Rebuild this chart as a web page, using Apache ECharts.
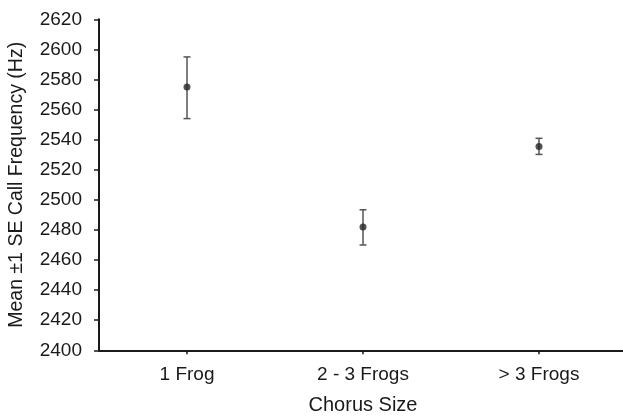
<!DOCTYPE html>
<html>
<head>
<meta charset="utf-8">
<script src="https://cdn.jsdelivr.net/npm/echarts@6/dist/echarts.min.js"></script>
<style>
html,body{margin:0;padding:0;background:#fff;}
#chart{width:623px;height:417px;}
</style>
</head>
<body>
<div id="chart"></div>
<script>
var categories = ['1 Frog', '2 - 3 Frogs', '> 3 Frogs'];
var means = [2575, 2482, 2535.5];
var lowers = [2554, 2470, 2530.2];
var uppers = [2595, 2493.4, 2540.9];

var chart = echarts.init(document.getElementById('chart'));
var font = 'Liberation Sans, Arial, sans-serif';
var errData = categories.map(function (c, i) { return [i, lowers[i], uppers[i]]; });

chart.setOption({
  animation: false,
  backgroundColor: '#fff',
  grid: { left: 99, right: -4, top: 19.3, bottom: 66.7, containLabel: false, outerBoundsMode: 'none' },
  xAxis: {
    type: 'category',
    data: categories,
    name: 'Chorus Size',
    nameLocation: 'middle',
    nameGap: 45,
    nameTextStyle: { fontFamily: font, fontSize: 20, color: '#1a1a1a' },
    axisLine: { lineStyle: { color: '#1a1a1a', width: 2 } },
    axisTick: { show: true, alignWithLabel: true, length: 4, lineStyle: { color: '#1a1a1a', width: 1.5 } },
    axisLabel: { fontFamily: font, fontSize: 19, color: '#1a1a1a', margin: 15 },
    splitLine: { show: false }
  },
  yAxis: {
    type: 'value',
    min: 2400, max: 2620, interval: 20,
    name: 'Mean \u00b11 SE Call Frequency (Hz)',
    nameLocation: 'middle',
    nameGap: 72,
    nameRotate: 90,
    nameTextStyle: { fontFamily: font, fontSize: 19.5, color: '#1a1a1a' },
    axisLine: { show: true, lineStyle: { color: '#1a1a1a', width: 2 } },
    axisTick: { show: true, length: 5, lineStyle: { color: '#1a1a1a', width: 1.5 } },
    axisLabel: { fontFamily: font, fontSize: 19, color: '#1a1a1a', margin: 17, formatter: function (v) { return String(v); } },
    splitLine: { show: false }
  },
  series: [
    {
      type: 'custom',
      data: errData,
      encode: { x: 0, y: [1, 2] },
      renderItem: function (params, api) {
        var x = api.value(0);
        var lo = api.coord([x, api.value(1)]);
        var hi = api.coord([x, api.value(2)]);
        var hw = 3.5;
        var st = { stroke: '#555', lineWidth: 1.5, fill: null };
        return {
          type: 'group',
          children: [
            { type: 'line', shape: { x1: lo[0], y1: lo[1], x2: hi[0], y2: hi[1] }, style: st },
            { type: 'line', shape: { x1: lo[0] - hw, y1: lo[1], x2: lo[0] + hw, y2: lo[1] }, style: st },
            { type: 'line', shape: { x1: hi[0] - hw, y1: hi[1], x2: hi[0] + hw, y2: hi[1] }, style: st }
          ]
        };
      },
      z: 2
    },
    {
      type: 'scatter',
      data: means,
      symbol: 'circle',
      symbolSize: 7,
      itemStyle: { color: '#262626' },
      z: 3
    }
  ]
});
</script>
</body>
</html>
